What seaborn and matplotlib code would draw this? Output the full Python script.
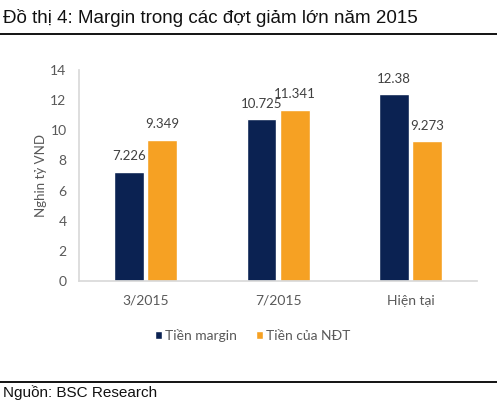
import matplotlib
matplotlib.use("Agg")
import matplotlib.pyplot as plt
import pandas as pd
import seaborn as sns

categories = ["3/2015", "7/2015", "Hiện tại"]
series_names = ["Tiền margin", "Tiền của NĐT"]
margin = [7.226, 10.725, 12.38]
investor = [9.349, 11.341, 9.273]
labels_margin = ["7.226", "10.725", "12.38"]
labels_investor = ["9.349", "11.341", "9.273"]
yticks = [0, 2, 4, 6, 8, 10, 12, 14]

df = pd.DataFrame({
    "cat": categories * 2,
    "series": [series_names[0]] * 3 + [series_names[1]] * 3,
    "value": margin + investor,
})

sns.set_theme(style="white")
plt.rcParams["font.family"] = ["Lato", "DejaVu Sans"]

fig = plt.figure(figsize=(4.97, 4.05), dpi=100)
ax = fig.add_axes([0.159, 0.306, 0.801, 0.521])

palette = {series_names[0]: "#0B2252", series_names[1]: "#F6A123"}
sns.barplot(data=df, x="cat", y="value", hue="series", order=categories,
            hue_order=series_names, palette=palette, width=0.5, gap=0.1,
            saturation=1, ax=ax, legend=True)

for cont, labs in zip(ax.containers, [labels_margin, labels_investor]):
    ax.bar_label(cont, labels=labs, padding=7, fontsize=9.5, color="#404040")

ax.set_ylim(0, 14)
ax.set_xlim(-0.5, 2.5)
ax.set_yticks(yticks)
ax.set_yticklabels([str(t) for t in yticks])
ax.tick_params(axis="both", length=0, labelsize=10, labelcolor="#595959")
ax.tick_params(axis="y", pad=9)
ax.tick_params(axis="x", pad=10)
ax.set_xlabel("")
ax.set_ylabel("Nghin tỷ VND", fontsize=9.5, color="#595959", labelpad=2)
for s in ["top", "right"]:
    ax.spines[s].set_visible(False)
ax.spines["left"].set_color("#D9D9D9")
ax.spines["bottom"].set_color("#D9D9D9")

ax.legend(loc="center", bbox_to_anchor=(253 / 497, 1 - 335 / 405),
          bbox_transform=fig.transFigure, ncol=2, frameon=False,
          fontsize=10, handlelength=0.5, handleheight=0.5,
          handletextpad=0.2, columnspacing=1.4, labelcolor="#595959")

fig.text(0.006, 1 - 18 / 405, "Đồ thị 4: Margin trong các đợt giảm lớn năm 2015",
         fontsize=13.5, family="Liberation Sans", va="center", color="#111111")
fig.add_artist(plt.Line2D([0, 1], [1 - 34 / 405, 1 - 34 / 405], color="black", lw=1.3))
fig.add_artist(plt.Line2D([0, 1], [1 - 382 / 405, 1 - 382 / 405], color="black", lw=1.3))
fig.text(0.006, 1 - 393 / 405, "Nguồn: BSC Research",
         fontsize=11, family="Liberation Sans", va="center", color="#111111")

fig.savefig("out.png", dpi=100, facecolor="white")
